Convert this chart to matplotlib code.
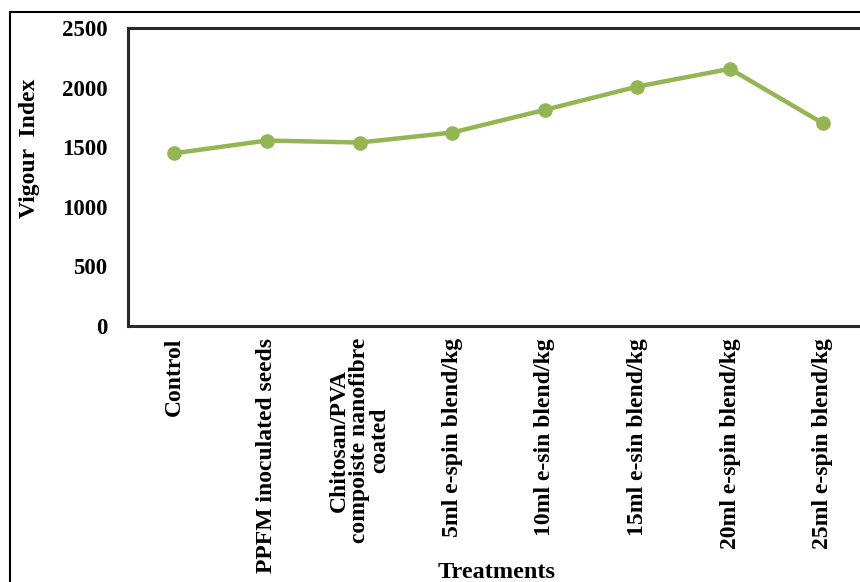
import matplotlib
matplotlib.use("Agg")
import matplotlib.pyplot as plt
from matplotlib.patches import Rectangle

treatments = [
    "Control",
    "PPFM inoculated seeds",
    "Chitosan/PVA\ncompoiste nanofibre\ncoated",
    "5ml e-spin blend/kg",
    "10ml e-sin blend/kg",
    "15ml e-sin blend/kg",
    "20ml e-spin blend/kg",
    "25ml e-spin blend/kg",
]
vigour_index = [1449, 1556, 1539, 1623, 1814, 2010, 2159, 1702]
y_ticks = [0, 500, 1000, 1500, 2000, 2500]

plt.rcParams["font.family"] = ["Liberation Serif", "DejaVu Serif"]
plt.rcParams["font.weight"] = "bold"

fig = plt.figure(figsize=(8.6, 5.82), dpi=100)
W, H = 860, 582

# outer chart border
fig.patches.append(Rectangle((10 / W, -0.1), 1.2, (H - 12) / H + 0.1,
                             transform=fig.transFigure, fill=False,
                             edgecolor="black", linewidth=1.5))

ax = fig.add_axes([128 / W, 1 - 325.5 / H, (869 - 128) / W, (325.5 - 28.3) / H])

x = [i + 0.5 for i in range(len(treatments))]
ax.plot(x, vigour_index, color="#93B552", linewidth=3.2, marker="o",
        markersize=9.5, markerfacecolor="#93B552", markeredgecolor="#93B552",
        solid_capstyle="round")

ax.set_xlim(0, len(treatments))
ax.set_ylim(0, 2500)
ax.set_yticks(y_ticks)
ax.set_yticklabels([str(v) for v in y_ticks], fontsize=16.5, fontweight="bold")
ax.set_xticks(x)
ax.set_xticklabels(treatments, rotation=90, fontsize=17, fontweight="bold",
                   va="top", ha="center", multialignment="center",
                   linespacing=0.94)
ax.tick_params(axis="both", length=0)
ax.tick_params(axis="y", pad=15)
ax.tick_params(axis="x", pad=9)

for side in ["left", "bottom", "top"]:
    ax.spines[side].set_color("#2a2a2a")
    ax.spines[side].set_linewidth(2.2)
ax.spines["right"].set_visible(False)

fig.text(497 / W, 1 - 573 / H, "Treatments", ha="center", va="center",
         fontsize=17.5, fontweight="bold")
fig.text(30 / W, 1 - 148 / H, "Vigour  Index", ha="center", va="center",
         rotation=90, fontsize=17, fontweight="bold")

fig.savefig("out.png", dpi=100)
